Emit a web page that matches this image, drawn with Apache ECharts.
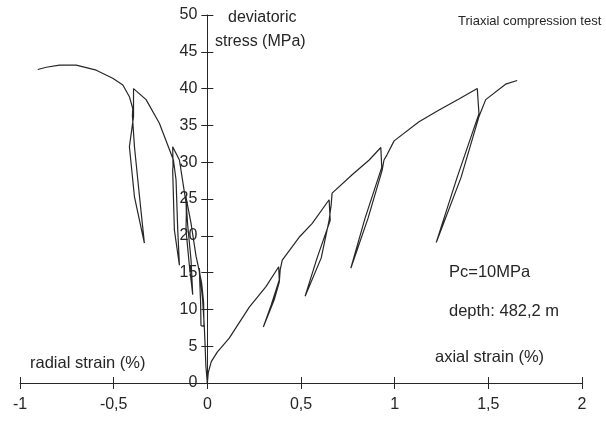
<!DOCTYPE html>
<html>
<head>
<meta charset="utf-8">
<script src="https://cdn.jsdelivr.net/npm/echarts@6/dist/echarts.min.js"></script>
<style>
  html, body { margin: 0; padding: 0; background: #fff; }
  #main { width: 606px; height: 426px; }
</style>
</head>
<body>
<div id="main"></div>
<script>
// axial strain (%) vs deviatoric stress (MPa), with 4 unload/reload loops
var axialStrain = [0, 0.005, 0.021, 0.053, 0.117, 0.224, 0.313, 0.381, 0.384, 0.341, 0.299, 0.357, 0.384, 0.389,
  0.400, 0.490, 0.560, 0.650, 0.656, 0.586, 0.522, 0.608, 0.650, 0.661,
  0.666, 0.773, 0.864, 0.926, 0.931, 0.842, 0.766, 0.858, 0.933,
  0.943, 0.959, 0.997, 1.130, 1.237, 1.343, 1.441, 1.450, 1.333, 1.222, 1.354, 1.450,
  1.486, 1.592, 1.654];
var axialStress = [0, 1.4, 2.9, 4.2, 6.1, 10.3, 13.1, 15.8, 14.0, 10.6, 7.6, 11.3, 13.7, 15.4,
  16.7, 19.8, 21.7, 24.9, 22.1, 17.0, 11.8, 17.0, 22.1, 24.2,
  25.8, 28.3, 30.3, 32.0, 29.3, 22.4, 15.6, 22.4, 28.9,
  30.3, 31.0, 32.9, 35.5, 37.1, 38.6, 40.0, 36.6, 27.9, 19.1, 27.9, 36.2,
  38.5, 40.6, 41.1];

// radial strain (%) vs deviatoric stress (MPa)
var radialStrain = [0, -0.008, -0.011, -0.016, -0.025, -0.043, -0.040, -0.036, -0.034, -0.018, -0.020, -0.030, -0.043,
  -0.060, -0.087, -0.114, -0.112, -0.114, -0.096, -0.078, -0.087, -0.105, -0.112,
  -0.149, -0.185, -0.183, -0.185, -0.176, -0.149, -0.158, -0.167, -0.181,
  -0.256, -0.327, -0.394, -0.394, -0.416, -0.389, -0.336, -0.362, -0.389, -0.400,
  -0.398, -0.416, -0.451, -0.505, -0.593, -0.700, -0.789, -0.860, -0.905];
var radialStress = [0, 2.4, 4.5, 7.6, 11.3, 15.6, 13.5, 11.0, 7.8, 7.7, 11.0, 13.5, 15.2,
  17.2, 21.7, 25.3, 23.0, 20.8, 16.0, 12.0, 16.7, 21.5, 24.2,
  30.3, 32.1, 29.5, 28.9, 20.8, 16.0, 20.8, 27.6, 30.3,
  35.3, 38.5, 40.0, 36.2, 32.1, 25.3, 19.0, 25.3, 32.1, 36.3,
  37.3, 38.9, 40.5, 41.4, 42.5, 43.2, 43.2, 42.9, 42.6];

var xMin = -1, xMax = 2;

function pairs(xs, ys) {
  return xs.map(function (x, i) { return [x, ys[i]]; });
}

var chart = echarts.init(document.getElementById('main'));
var ink = '#262626';
var font = 'Liberation Sans';
var gridLeft = 20, gridRight = 24;
// shift the label-only y axis so it sits on x = 0
var gridWidth = 606 - gridLeft - gridRight;
var zeroOffset = -gridWidth * (0 - xMin) / (xMax - xMin);

var lineStyleAxis = { color: ink, width: 1 };

chart.setOption({
  animation: false,
  grid: { left: gridLeft, right: gridRight, top: 15, bottom: 43, outerBoundsMode: 'none', containLabel: false },
  xAxis: [
    {
      type: 'value', min: xMin, max: xMax, interval: 0.5,
      axisLine: { onZero: false, lineStyle: lineStyleAxis },
      axisTick: { length: 6, lineStyle: lineStyleAxis },
      axisLabel: {
        margin: 14, color: ink, fontSize: 16, fontFamily: font,
        formatter: function (v) { return String(v).replace('.', ','); }
      },
      splitLine: { show: false }
    },
    {
      type: 'value', min: xMin, max: xMax, interval: 0.5, position: 'bottom',
      axisLine: { show: false },
      axisTick: { inside: true, length: 6, lineStyle: lineStyleAxis },
      axisLabel: { show: false },
      splitLine: { show: false }
    }
  ],
  yAxis: [
    {
      type: 'value', min: 0, max: 50, interval: 5,
      axisLine: { onZero: true, lineStyle: lineStyleAxis },
      axisTick: { length: 6, lineStyle: lineStyleAxis },
      axisLabel: { show: false },
      splitLine: { show: false }
    },
    {
      type: 'value', min: 0, max: 50, interval: 5, position: 'left',
      axisLine: { show: false, onZero: true },
      axisTick: { inside: true, length: 6, lineStyle: lineStyleAxis },
      axisLabel: { show: false },
      splitLine: { show: false }
    },
    {
      // labels only, placed beside the x = 0 axis line
      type: 'value', min: 0, max: 50, interval: 5, position: 'left', offset: zeroOffset,
      axisLine: { show: false, onZero: false },
      axisTick: { show: false },
      axisLabel: { margin: 10, color: ink, fontSize: 16, fontFamily: font },
      splitLine: { show: false }
    }
  ],
  series: [
    {
      name: 'axial', type: 'line', showSymbol: false, smooth: false,
      lineStyle: { color: ink, width: 1.2 },
      data: pairs(axialStrain, axialStress)
    },
    {
      name: 'radial', type: 'line', showSymbol: false, smooth: false,
      lineStyle: { color: ink, width: 1.2 },
      data: pairs(radialStrain, radialStress)
    }
  ],
  graphic: [
    { type: 'text', left: 228, top: 10, style: { text: 'deviatoric', fill: ink, fontSize: 16, fontFamily: font } },
    { type: 'text', left: 215, top: 34, style: { text: 'stress (MPa)', fill: ink, fontSize: 16, fontFamily: font } },
    { type: 'text', left: 458, top: 15, style: { text: 'Triaxial compression test', fill: ink, fontSize: 13, fontFamily: font } },
    { type: 'text', left: 449, top: 264, style: { text: 'Pc=10MPa', fill: ink, fontSize: 16.5, fontFamily: font } },
    { type: 'text', left: 449, top: 303, style: { text: 'depth: 482,2 m', fill: ink, fontSize: 16.5, fontFamily: font } },
    { type: 'text', left: 435, top: 349, style: { text: 'axial strain (%)', fill: ink, fontSize: 16.5, fontFamily: font } },
    { type: 'text', left: 30, top: 355, style: { text: 'radial strain (%)', fill: ink, fontSize: 16.5, fontFamily: font } }
  ]
});
</script>
</body>
</html>
